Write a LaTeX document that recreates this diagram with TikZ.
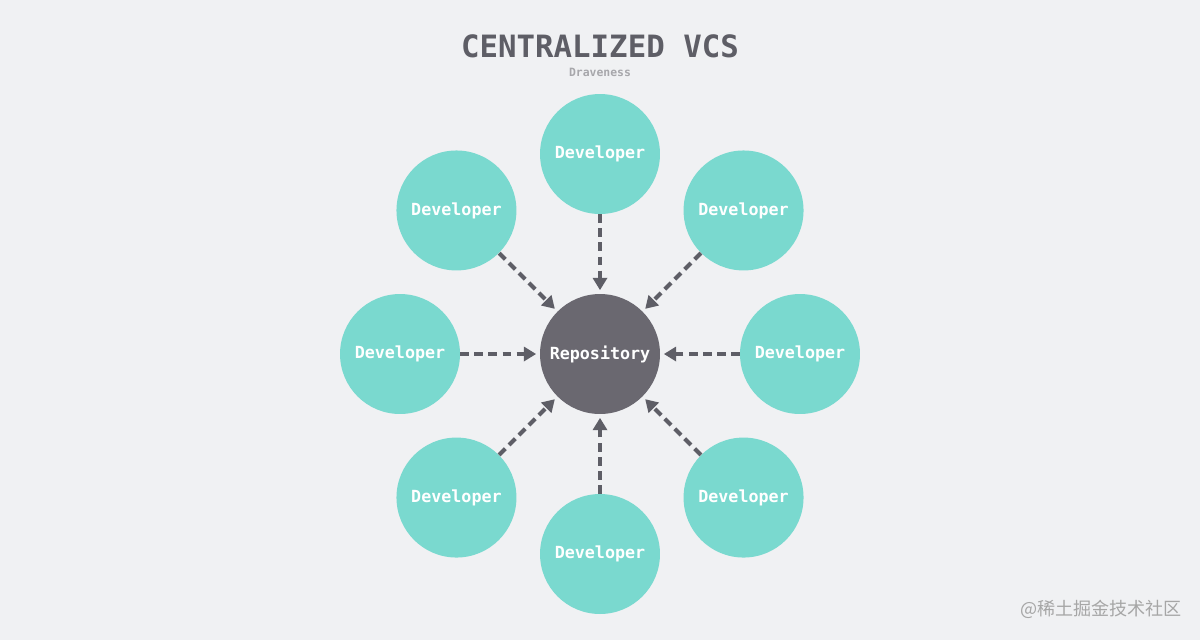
\documentclass[tikz,border=0pt]{standalone}
\usepackage{fontspec}
\setmonofont{DejaVu Sans Mono}
\newfontfamily\cjk{Noto Sans CJK SC}
\usetikzlibrary{arrows.meta,calc}
\definecolor{bgGray}{HTML}{F0F1F3}
\definecolor{devTeal}{HTML}{7AD9CF}
\definecolor{repoGray}{HTML}{6A6870}
\definecolor{arrGray}{HTML}{5E5E66}
\begin{document}
\begin{tikzpicture}[x=0.02cm, y=-0.02cm]
    \tikzstyle{dev} = [ shape=circle, fill=devTeal, minimum size=2.4cm, inner sep=0pt, text=white, font=\ttfamily\bfseries\fontsize{9.5}{10}\selectfont ];
    \tikzstyle{repo} = [ dev, fill=repoGray ];
    \tikzstyle{arr} = [ -{Triangle[length=7pt,width=8pt]}, line width=2.4pt, dash pattern=on 5pt off 3pt, draw=arrGray, shorten >= 2pt ];

    \fill [bgGray] (0,0) rectangle (1200,640);
    \node (nTitle) [text=arrGray, font=\ttfamily\bfseries\fontsize{17.5}{18}\selectfont] at (600,46) {CENTRALIZED VCS};
    \node (nAuthor) [text=arrGray!55, font=\ttfamily\bfseries\fontsize{6.5}{7}\selectfont] at (600,72) {Draveness};

    \node (nRepo) [repo] at (600,354) {Repository};
    \foreach \ang/\rad in {90/200, 45/203, 0/200, -45/203, -90/200, -135/203, 180/200, 135/203} {
        \node (nDev\ang) [dev] at ($(600,354)+(\ang:\rad*0.02cm)$) {Developer};
        \draw [arr] (nDev\ang) -- (nRepo);
    }
    \node (nMark) [text=gray!70, font=\cjk\fontsize{10.3}{11}\selectfont] at (1101,609) {@稀土掘金技术社区};
\end{tikzpicture}
\end{document}
